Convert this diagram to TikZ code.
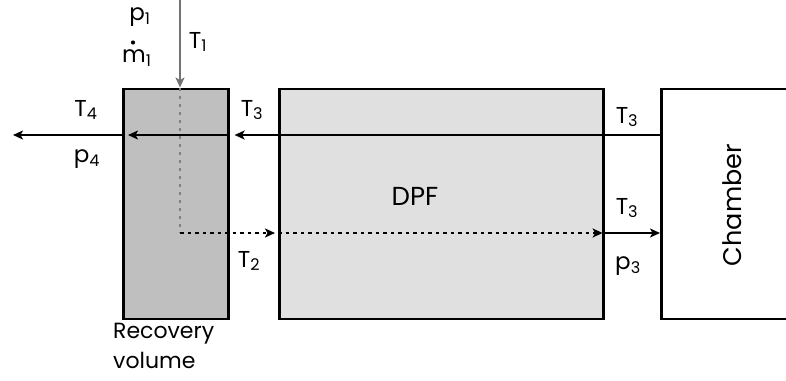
\documentclass[tikz,border=0pt]{standalone}
\usepackage{fontspec}
\setmainfont{Poppins}
\usetikzlibrary{arrows.meta}
\begin{document}
\begin{tikzpicture}[x=1pt,y=-1pt,
  box/.style={draw=black, line width=2.6pt, inner sep=0pt, anchor=north west},
  tip/.style={-{Stealth[length=10pt,width=9pt,inset=2.5pt]}},
  flow/.style={tip, line width=1.6pt},
  dotflow/.style={tip, line width=1.8pt, dash pattern=on 3.5pt off 4pt},
  lab/.style={font=\fontsize{23}{23}\selectfont, inner sep=0pt},
]
\useasboundingbox (0,0) rectangle (786,380);
\clip (0,0) rectangle (786,380);

% vessels
\node[box, fill=black!25, minimum width=105pt, minimum height=230pt] (rec) at (122,87.5) {};
\node[box, fill=black!12, minimum width=324pt, minimum height=230pt] (dpf) at (278,87.5) {};
\node[box, fill=white, minimum width=180pt, minimum height=230pt] (ch) at (660,87.5) {};

% reference points of the flow paths
\coordinate (top) at (0,135);
\coordinate (low) at (0,233);
\coordinate (src) at (180,0);
\coordinate (bend) at (180,233);
\coordinate (out) at (13,135);

% inlet from above
\draw[flow, draw=black!55] (src) -- (src |- rec.north);
\draw[black!50, line width=1.3pt, dash pattern=on 3pt off 5pt] (src |- rec.north) -- (bend);

% return line from the chamber
\draw[flow] (ch.west |- top) -- ([xshift=5pt]rec.east |- top);
\draw[flow] (rec.east |- top) -- ([xshift=6pt]rec.west |- top);
\draw[flow] (rec.west |- top) -- (out);

% forward line through the filter
\draw[dotflow] (bend) -- ([xshift=-3pt]dpf.west |- low);
\draw[dotflow] (dpf.west |- low) -- ([xshift=-2pt]dpf.east |- low);
\draw[flow] (dpf.east |- low) -- (ch.west |- low);

% labels
\node[lab] (p1) at (140,17) {p\textsubscript{1}};
\node[lab, anchor=west] (m1) at (122,58) {m\textsubscript{1}};
% overdot of the mass flow symbol
\fill ([xshift=11pt,yshift=15.5pt]m1.west) circle (2.1pt);
\node[lab] (t1) at (198,42) {T\textsubscript{1}};
\node[lab] (t4) at (86,110) {T\textsubscript{4}};
\node[lab] (p4) at (87,159) {p\textsubscript{4}};
\node[lab] (t3a) at (252,110) {T\textsubscript{3}};
\node[lab] (t3b) at (627,117) {T\textsubscript{3}};
\node[lab] (t3c) at (627,208) {T\textsubscript{3}};
\node[lab] (p3) at (628,266) {p\textsubscript{3}};
\node[lab] (t2) at (249,261) {T\textsubscript{2}};
\node[lab, font=\fontsize{26}{26}\selectfont] (dpflab) at (415,196) {DPF};
\node[lab, font=\fontsize{25.5}{25.5}\selectfont, rotate=90] (chlab) at (732,205) {Chamber};
\node[lab, font=\fontsize{22}{30}\selectfont, anchor=north west, align=left] (reclab) at (113,323) {Recovery\\volume};
\end{tikzpicture}
\end{document}
